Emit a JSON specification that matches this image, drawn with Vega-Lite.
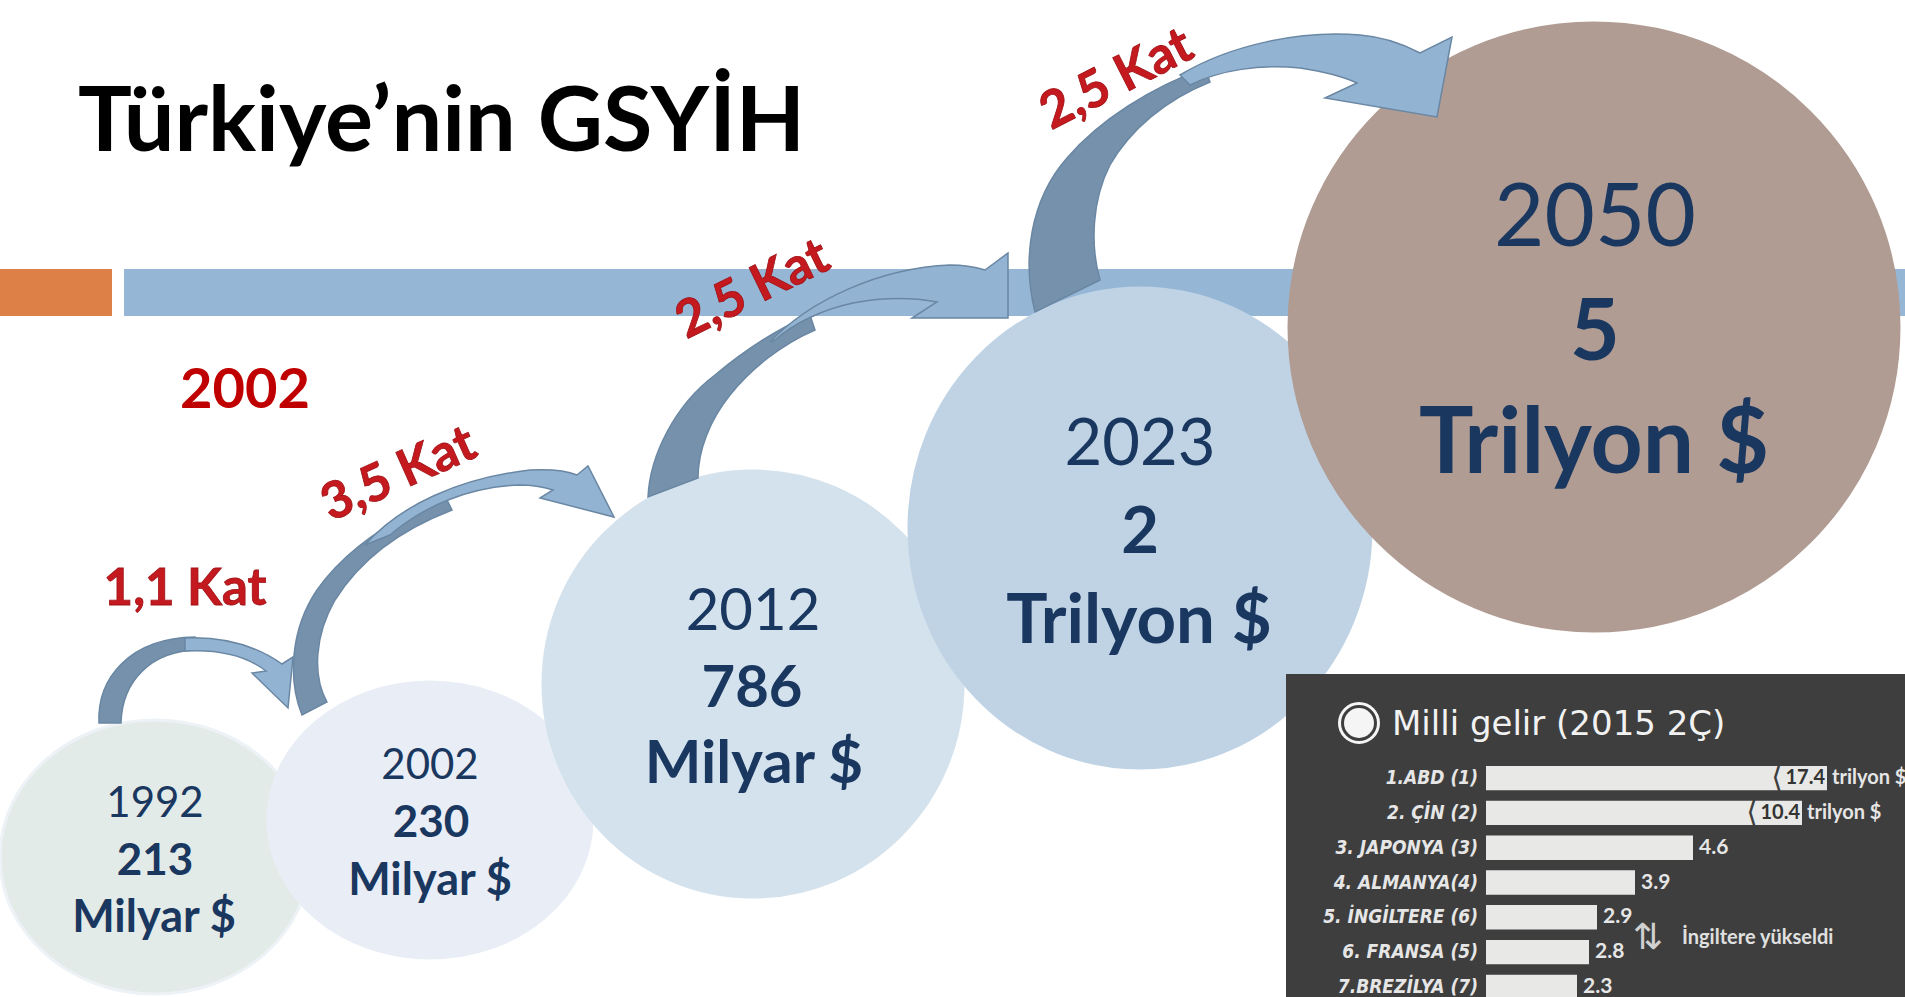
{
  "$schema": "https://vega.github.io/schema/vega-lite/v6.json",
  "width": 1905,
  "height": 997,
  "autosize": {"type": "none"},
  "padding": 0,
  "background": "#FFFFFF",
  "config": {"view": {"stroke": null}},
  "datasets": {
    "gdp": [
      {"year": 1992, "gdp": 213, "yearLabel": "1992", "amount": "213", "unit": "Milyar $"},
      {"year": 2002, "gdp": 230, "yearLabel": "2002", "amount": "230", "unit": "Milyar $"},
      {"year": 2012, "gdp": 786, "yearLabel": "2012", "amount": "786", "unit": "Milyar $"},
      {"year": 2023, "gdp": 2000, "yearLabel": "2023", "amount": "2", "unit": "Trilyon $"},
      {"year": 2050, "gdp": 5000, "yearLabel": "2050", "amount": "5", "unit": "Trilyon $"}
    ],
    "growth": [
      {"from": 1992, "to": 2002, "label": "1,1 Kat"},
      {"from": 2002, "to": 2012, "label": "3,5 Kat"},
      {"from": 2012, "to": 2023, "label": "2,5 Kat"},
      {"from": 2023, "to": 2050, "label": "2,5 Kat"}
    ],
    "arrows": [
      {"from": 1992, "part": "tail", "piece": "1992 tail"},
      {"from": 1992, "part": "head", "piece": "1992 head"},
      {"from": 2002, "part": "tail", "piece": "2002 tail"},
      {"from": 2002, "part": "head", "piece": "2002 head"},
      {"from": 2012, "part": "tail", "piece": "2012 tail"},
      {"from": 2012, "part": "head", "piece": "2012 head"},
      {"from": 2023, "part": "tail", "piece": "2023 tail"},
      {"from": 2023, "part": "head", "piece": "2023 head"}
    ],
    "gelir": [
      {"country": "1.ABD (1)", "value": 17.4},
      {"country": "2. ÇİN (2)", "value": 10.4},
      {"country": "3. JAPONYA (3)", "value": 4.6},
      {"country": "4. ALMANYA(4)", "value": 3.9},
      {"country": "5. İNGİLTERE (6)", "value": 2.9},
      {"country": "6. FRANSA (5)", "value": 2.8},
      {"country": "7.BREZİLYA (7)", "value": 2.3}
    ]
  },
  "resolve": {"scale": {"x": "independent", "y": "independent", "color": "independent", "stroke": "independent", "shape": "independent", "size": "independent", "angle": "independent"}},
  "layer": [
    {
      "data": {"values": [{"part": "accent"}]},
      "mark": {"type": "rect", "color": "#DD8047"},
      "encoding": {
        "x": {"field": "part", "type": "nominal", "scale": {"type": "band", "range": [0, 112], "paddingInner": 0, "paddingOuter": 0}, "axis": null},
        "y": {"field": "part", "type": "nominal", "scale": {"type": "band", "range": [269, 316], "paddingInner": 0, "paddingOuter": 0}, "axis": null}
      }
    },
    {
      "data": {"values": [{"part": "band"}]},
      "mark": {"type": "rect", "color": "#95B6D4"},
      "encoding": {
        "x": {"field": "part", "type": "nominal", "scale": {"type": "band", "range": [124, 1905], "paddingInner": 0, "paddingOuter": 0}, "axis": null},
        "y": {"field": "part", "type": "nominal", "scale": {"type": "band", "range": [269, 316], "paddingInner": 0, "paddingOuter": 0}, "axis": null}
      }
    },
    {
      "data": {"values": [{"label": "Türkiye’nin GSYİH"}]},
      "mark": {"type": "text", "align": "left", "baseline": "alphabetic", "font": "Lato", "fontWeight": "bold", "fontSize": 90, "color": "#000000"},
      "encoding": {
        "x": {"field": "label", "type": "nominal", "scale": {"type": "point", "range": [78, 78]}, "axis": null},
        "y": {"field": "label", "type": "nominal", "scale": {"type": "point", "range": [151, 151]}, "axis": null},
        "text": {"field": "label"}
      }
    },
    {
      "data": {"values": [{"label": "2002"}]},
      "mark": {"type": "text", "align": "center", "baseline": "alphabetic", "font": "Lato", "fontWeight": "bold", "fontSize": 56, "color": "#C00000"},
      "encoding": {
        "x": {"field": "label", "type": "nominal", "scale": {"type": "point", "range": [245, 245]}, "axis": null},
        "y": {"field": "label", "type": "nominal", "scale": {"type": "point", "range": [408, 408]}, "axis": null},
        "text": {"field": "label"}
      }
    },
    {
      "data": {"name": "gdp"},
      "mark": {"type": "point", "filled": true, "opacity": 1, "size": 4, "strokeWidth": 3},
      "encoding": {
        "x": {"field": "year", "type": "quantitative", "scale": {"domain": [1992, 2002, 2012, 2023, 2050], "range": [155, 430, 753, 1140, 1594], "nice": false, "zero": false}, "axis": null},
        "y": {"field": "year", "type": "quantitative", "scale": {"domain": [1992, 2002, 2012, 2023, 2050], "range": [857, 820, 684, 528, 327], "nice": false, "zero": false}, "axis": null},
        "shape": {"field": "year", "type": "nominal", "scale": {"domain": [1992, 2002, 2012, 2023, 2050], "range": [
          "M -155 0 A 155 137 0 1 0 155 0 A 155 137 0 1 0 -155 0 Z",
          "M -162 0 A 162 138 0 1 0 162 0 A 162 138 0 1 0 -162 0 Z",
          "M -210 0 A 210 213 0 1 0 210 0 A 210 213 0 1 0 -210 0 Z",
          "M -231 0 A 231 240 0 1 0 231 0 A 231 240 0 1 0 -231 0 Z",
          "M -305 0 A 305 304 0 1 0 305 0 A 305 304 0 1 0 -305 0 Z"
        ]}, "legend": null},
        "color": {"field": "year", "type": "nominal", "scale": {"domain": [1992, 2002, 2012, 2023, 2050], "range": ["#E3EBE8", "#E9EEF6", "#D4E2ED", "#BFD3E5", "#B09C93"]}, "legend": null},
        "stroke": {"field": "year", "type": "nominal", "scale": {"domain": [1992, 2002, 2012, 2023, 2050], "range": ["#EDF2F7", "#E9EEF6", "#D4E2ED", "#BFD3E5", "#B09C93"]}, "legend": null}
      }
    },
    {
      "data": {"name": "gdp"},
      "mark": {"type": "text", "align": "center", "baseline": "alphabetic", "font": "Lato", "fontWeight": "normal", "color": "#1A3760"},
      "encoding": {
        "x": {"field": "year", "type": "quantitative", "scale": {"domain": [1992, 2002, 2012, 2023, 2050], "range": [155, 430, 753, 1140, 1595], "nice": false, "zero": false}, "axis": null},
        "y": {"field": "year", "type": "quantitative", "scale": {"domain": [1992, 2002, 2012, 2023, 2050], "range": [817, 779, 630, 465, 246], "nice": false, "zero": false}, "axis": null},
        "size": {"field": "year", "type": "quantitative", "scale": {"domain": [1992, 2002, 2012, 2023, 2050], "range": [42, 42, 58, 65, 87], "nice": false, "zero": false}, "legend": null},
        "text": {"field": "yearLabel"}
      }
    },
    {
      "data": {"name": "gdp"},
      "mark": {"type": "text", "align": "center", "baseline": "alphabetic", "font": "Lato", "fontWeight": "bold", "color": "#1A3760"},
      "encoding": {
        "x": {"field": "year", "type": "quantitative", "scale": {"domain": [1992, 2002, 2012, 2023, 2050], "range": [155, 431, 752, 1140, 1595], "nice": false, "zero": false}, "axis": null},
        "y": {"field": "year", "type": "quantitative", "scale": {"domain": [1992, 2002, 2012, 2023, 2050], "range": [875, 837, 707, 553, 360], "nice": false, "zero": false}, "axis": null},
        "size": {"field": "year", "type": "quantitative", "scale": {"domain": [1992, 2002, 2012, 2023, 2050], "range": [44, 44, 58, 65, 86], "nice": false, "zero": false}, "legend": null},
        "text": {"field": "amount"}
      }
    },
    {
      "data": {"name": "gdp"},
      "mark": {"type": "text", "align": "center", "baseline": "alphabetic", "font": "Lato", "fontWeight": "bold", "color": "#1A3760"},
      "encoding": {
        "x": {"field": "year", "type": "quantitative", "scale": {"domain": [1992, 2002, 2012, 2023, 2050], "range": [154, 430, 754, 1139, 1594], "nice": false, "zero": false}, "axis": null},
        "y": {"field": "year", "type": "quantitative", "scale": {"domain": [1992, 2002, 2012, 2023, 2050], "range": [932, 895, 783, 643, 473], "nice": false, "zero": false}, "axis": null},
        "size": {"field": "year", "type": "quantitative", "scale": {"domain": [1992, 2002, 2012, 2023, 2050], "range": [45, 45, 60, 69, 91], "nice": false, "zero": false}, "legend": null},
        "text": {"field": "unit"}
      }
    },
    {
      "data": {"name": "arrows"},
      "mark": {"type": "point", "filled": true, "opacity": 1, "size": 4, "stroke": "#6A87A3", "strokeWidth": 1.5},
      "encoding": {
        "x": {"field": "from", "type": "quantitative", "scale": {"domain": [1992, 2002, 2012, 2023], "range": [155, 430, 753, 1140], "nice": false, "zero": false}, "axis": null},
        "y": {"field": "from", "type": "quantitative", "scale": {"domain": [1992, 2002, 2012, 2023], "range": [857, 820, 684, 528], "nice": false, "zero": false}, "axis": null},
        "shape": {"field": "piece", "type": "nominal", "scale": {"domain": ["1992 tail", "1992 head", "2002 tail", "2002 head", "2012 tail", "2012 head", "2023 tail", "2023 head"], "range": [
          "M -56 -134 C -58 -179 -25 -219 40 -220 L 45 -207 C -5 -207 -33 -175 -34 -134 Z",
          "M 30 -219 C 75 -221 107 -207 127 -193 L 138 -200 L 133 -149 L 97 -184 L 111 -186 C 93 -200 67 -208 30 -206 Z",
          "M -128 -105 C -142 -140 -140 -190 -113 -230 C -85 -270 -40 -300 15 -324 L 22 -310 C -30 -290 -70 -260 -95 -220 C -115 -185 -118 -145 -103 -118 Z",
          "M -65 -275 C -30 -315 30 -342 100 -350 C 120 -351 135 -350 147 -345 L 158 -354 L 184 -303 L 110 -322 L 123 -330 C 110 -334 97 -335 90 -335 C 40 -333 -5 -315 -40 -285 Z",
          "M -105 -187 C -103 -229 -78 -279 -38 -309 C -8 -334 22 -354 57 -369 L 62 -354 C 27 -339 -3 -314 -23 -289 C -43 -264 -55 -234 -55 -206 Z",
          "M 17 -342 C 57 -384 127 -416 197 -419 C 212 -419 222 -417 232 -414 L 255 -431 L 255 -366 L 159 -366 L 184 -382 C 157 -387 127 -386 100 -381 C 72 -375 42 -362 22 -344 Z",
          "M -105 -216 C -118 -268 -110 -328 -73 -370 C -40 -408 10 -440 65 -460 L 70 -446 C 25 -428 -10 -398 -30 -363 C -48 -328 -50 -283 -40 -248 Z",
          "M 40 -453 C 90 -483 160 -498 220 -493 C 245 -491 265 -483 280 -475 L 312 -491 L 297 -411 L 185 -430 L 217 -445 C 200 -453 180 -457 160 -460 C 120 -464 80 -458 50 -443 Z"
        ]}, "legend": null},
        "color": {"field": "part", "type": "nominal", "scale": {"domain": ["tail", "head"], "range": ["#7591AC", "#93B3D2"]}, "legend": null},
        "order": [{"field": "from", "type": "quantitative", "sort": "ascending"}, {"field": "part", "type": "nominal", "sort": "descending"}]
      }
    },
    {
      "data": {"name": "growth"},
      "mark": {"type": "text", "align": "center", "baseline": "middle", "font": "Lato", "fontWeight": "bold", "fontSize": 51, "color": "#C41A1F", "stroke": "#9E1014", "strokeWidth": 0.8},
      "encoding": {
        "x": {"field": "from", "type": "quantitative", "scale": {"domain": [1992, 2002, 2012, 2023], "range": [185, 399, 753, 1117], "nice": false, "zero": false}, "axis": null},
        "y": {"field": "from", "type": "quantitative", "scale": {"domain": [1992, 2002, 2012, 2023], "range": [590, 475, 290, 80], "nice": false, "zero": false}, "axis": null},
        "angle": {"field": "from", "type": "quantitative", "scale": {"domain": [1992, 2002, 2012, 2023], "range": [0, -24, -26, -27], "nice": false, "zero": false}, "legend": null},
        "text": {"field": "label"}
      }
    },
    {
      "data": {"values": [{"panel": "Milli gelir (2015 2Ç)"}]},
      "mark": {"type": "rect", "color": "#3E3E3E"},
      "encoding": {
        "x": {"field": "panel", "type": "nominal", "scale": {"type": "band", "range": [1286, 1905], "paddingInner": 0, "paddingOuter": 0}, "axis": null},
        "y": {"field": "panel", "type": "nominal", "scale": {"type": "band", "range": [674, 997], "paddingInner": 0, "paddingOuter": 0}, "axis": null}
      }
    },
    {
      "data": {"values": [{"panel": "Milli gelir (2015 2Ç)"}]},
      "mark": {"type": "point", "shape": "circle", "size": 1521, "filled": false, "stroke": "#F5F5F5", "strokeWidth": 3, "opacity": 1},
      "encoding": {
        "x": {"field": "panel", "type": "nominal", "scale": {"type": "point", "range": [1359, 1359]}, "axis": null},
        "y": {"field": "panel", "type": "nominal", "scale": {"type": "point", "range": [723, 723]}, "axis": null}
      }
    },
    {
      "data": {"values": [{"panel": "Milli gelir (2015 2Ç)"}]},
      "mark": {"type": "point", "shape": "circle", "size": 900, "filled": true, "color": "#F5F5F5", "opacity": 1},
      "encoding": {
        "x": {"field": "panel", "type": "nominal", "scale": {"type": "point", "range": [1359, 1359]}, "axis": null},
        "y": {"field": "panel", "type": "nominal", "scale": {"type": "point", "range": [723, 723]}, "axis": null}
      }
    },
    {
      "data": {"values": [{"panel": "Milli gelir (2015 2Ç)"}]},
      "mark": {"type": "text", "align": "left", "baseline": "alphabetic", "font": "DejaVu Sans", "fontSize": 34, "color": "#F2F2F2"},
      "encoding": {
        "x": {"field": "panel", "type": "nominal", "scale": {"type": "point", "range": [1392, 1392]}, "axis": null},
        "y": {"field": "panel", "type": "nominal", "scale": {"type": "point", "range": [735, 735]}, "axis": null},
        "text": {"field": "panel"}
      }
    },
    {
      "data": {"name": "gelir"},
      "encoding": {
        "y": {"field": "country", "type": "nominal", "sort": null, "scale": {"domain": ["1.ABD (1)", "2. ÇİN (2)", "3. JAPONYA (3)", "4. ALMANYA(4)", "5. İNGİLTERE (6)", "6. FRANSA (5)", "7.BREZİLYA (7)"], "range": [766, 999], "paddingInner": 0.3, "paddingOuter": 0}, "axis": null}
      },
      "layer": [
        {
          "mark": {"type": "bar", "color": "#E8E8E6"},
          "encoding": {
            "x": {"field": "value", "type": "quantitative", "scale": {"domain": [0, 2.3, 2.8, 2.9, 3.9, 4.6, 10.4, 17.4], "range": [1486, 1577, 1589, 1597, 1635, 1693, 1802, 1827], "nice": false, "zero": false}, "axis": null}
          }
        },
        {
          "transform": [{"filter": "datum.value > 5"}],
          "mark": {"type": "text", "align": "center", "baseline": "middle", "font": "DejaVu Sans", "fontSize": 30, "color": "#3E3E3E", "dx": -50, "text": "⟨"},
          "encoding": {"x": {"field": "value", "type": "quantitative"}}
        },
        {
          "mark": {"type": "text", "align": "right", "baseline": "middle", "font": "DejaVu Sans Condensed, sans-serif", "fontStyle": "italic", "fontWeight": "bold", "fontSize": 19, "color": "#E6E6E6", "dx": -8},
          "encoding": {"x": {"datum": 0, "type": "quantitative"}, "text": {"field": "country"}}
        },
        {
          "transform": [{"filter": "datum.value <= 5"}],
          "mark": {"type": "text", "align": "left", "baseline": "middle", "font": "Lato", "fontWeight": "bold", "fontSize": 21, "color": "#E6E6E6", "dx": 6},
          "encoding": {"x": {"field": "value", "type": "quantitative"}, "text": {"field": "value", "type": "quantitative", "format": ".1f"}}
        },
        {
          "transform": [{"filter": "datum.value > 5"}],
          "mark": {"type": "text", "align": "right", "baseline": "middle", "font": "Lato", "fontWeight": "bold", "fontSize": 20, "color": "#333333", "dx": -2},
          "encoding": {"x": {"field": "value", "type": "quantitative"}, "text": {"field": "value", "type": "quantitative", "format": ".1f"}}
        },
        {
          "transform": [{"filter": "datum.value > 5"}],
          "mark": {"type": "text", "align": "left", "baseline": "middle", "font": "Lato", "fontWeight": "bold", "fontSize": 20, "color": "#E6E6E6", "dx": 5, "text": "trilyon $"},
          "encoding": {"x": {"field": "value", "type": "quantitative"}}
        }
      ]
    },
    {
      "data": {"values": [{"note": "İngiltere yükseldi"}]},
      "mark": {"type": "text", "align": "left", "baseline": "alphabetic", "font": "Lato", "fontWeight": "bold", "fontSize": 20, "color": "#E0E0E0"},
      "encoding": {
        "x": {"field": "note", "type": "nominal", "scale": {"type": "point", "range": [1682, 1682]}, "axis": null},
        "y": {"field": "note", "type": "nominal", "scale": {"type": "point", "range": [944, 944]}, "axis": null},
        "text": {"field": "note"}
      }
    },
    {
      "data": {"values": [{"note": "⇅"}]},
      "mark": {"type": "text", "align": "center", "baseline": "middle", "font": "DejaVu Sans", "fontSize": 36, "color": "#D0D0D0"},
      "encoding": {
        "x": {"field": "note", "type": "nominal", "scale": {"type": "point", "range": [1648, 1648]}, "axis": null},
        "y": {"field": "note", "type": "nominal", "scale": {"type": "point", "range": [938, 938]}, "axis": null},
        "text": {"field": "note"}
      }
    }
  ]
}
